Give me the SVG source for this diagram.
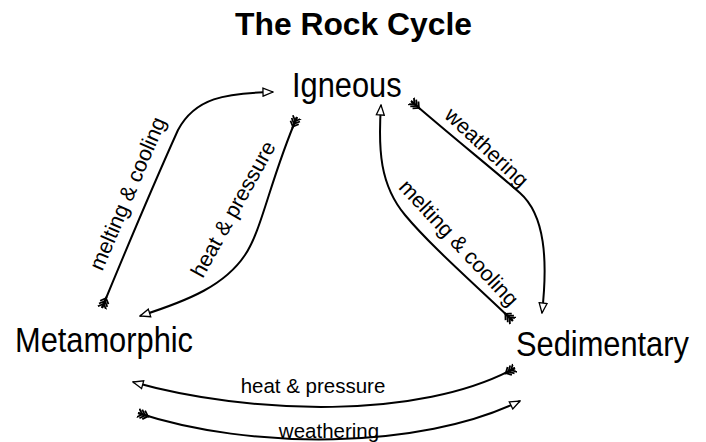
<svg xmlns="http://www.w3.org/2000/svg" width="706" height="442" viewBox="0 0 706 442">
  <style>
    .title { font-family: "Liberation Sans", Arial, sans-serif; font-weight: bold; font-size: 31px; fill: #000; }
    .node { font-family: "Liberation Sans", Arial, sans-serif; font-size: 30.8px; fill: #000; }
    .lbl { font-family: "Liberation Sans", Arial, sans-serif; font-size: 21.5px; fill: #000; }
    .lblh { font-family: "Liberation Sans", Arial, sans-serif; font-size: 20.5px; fill: #000; }
    .edge { fill: none; stroke: #000; stroke-width: 2; marker-start: url(#fletch); marker-end: url(#head); }
  </style>
  <defs>
    <marker id="head" viewBox="0 0 12 10" refX="11" refY="5" markerWidth="12" markerHeight="10" markerUnits="userSpaceOnUse" orient="auto">
      <path d="M1,1 L11,5 L1,9 Z" fill="#fff" stroke="#000" stroke-width="1.3" stroke-linejoin="miter"/>
    </marker>
    <marker id="fletch" viewBox="0 0 16 14" refX="0" refY="7" markerWidth="16" markerHeight="14" markerUnits="userSpaceOnUse" orient="auto">
      <path d="M0,2.5 L4.5,7 L0,11.5 M3,2.5 L7.5,7 L3,11.5 M6,2.5 L10.5,7 L6,11.5" fill="none" stroke="#000" stroke-width="1.8"/>
      <path d="M0,7 L12,7" stroke="#000" stroke-width="2"/>
    </marker>
  </defs>
  <rect width="706" height="442" fill="#fff"/>
  <text class="title" x="235" y="35" textLength="237" lengthAdjust="spacingAndGlyphs">The Rock Cycle</text>

  <g id="connectors">
    <g id="e-meta-ign">
      <path class="edge" d="M102,308 C130,240 160,170 178,130 C195,98 225,93 273,92"/>
      <text class="lbl" text-anchor="middle" transform="translate(134.3,196.4) rotate(-67)">melting &amp; cooling</text>
    </g>
    <g id="e-ign-meta">
      <path class="edge" d="M297,117 C270,180 262,230 245,255 C225,285 190,300 140,316"/>
      <text class="lbl" text-anchor="middle" transform="translate(239.5,212.7) rotate(-61)">heat &amp; pressure</text>
    </g>
    <g id="e-ign-sed">
      <path class="edge" d="M411,101 C450,135 500,175 520,193 C545,215 548,260 542,313"/>
      <text class="lbl" text-anchor="middle" transform="translate(481.7,152.7) rotate(43)">weathering</text>
    </g>
    <g id="e-sed-ign">
      <path class="edge" d="M513,321 C470,280 430,245 405,215 C380,185 378,150 381,105"/>
      <text class="lbl" text-anchor="middle" transform="translate(453.5,247.8) rotate(47)">melting &amp; cooling</text>
    </g>
    <g id="e-sed-meta">
      <path class="edge" d="M515,368 C420,420 250,415 133,382"/>
      <text class="lblh" text-anchor="middle" x="313" y="392.7">heat &amp; pressure</text>
    </g>
    <g id="e-meta-sed">
      <path class="edge" d="M138,413 C250,450 420,450 520,401"/>
      <text class="lblh" text-anchor="middle" x="329" y="438">weathering</text>
    </g>
  </g>

  <g id="node-igneous" transform="translate(292,96.5) scale(1,1.13)">
    <text class="node" x="0" y="0">Igneous</text>
  </g>
  <g id="node-metamorphic" transform="translate(15,351.7) scale(1,1.13)">
    <text class="node" x="0" y="0">Metamorphic</text>
  </g>
  <g id="node-sedimentary" transform="translate(516,356) scale(1,1.13)">
    <text class="node" x="0" y="0">Sedimentary</text>
  </g>
</svg>
